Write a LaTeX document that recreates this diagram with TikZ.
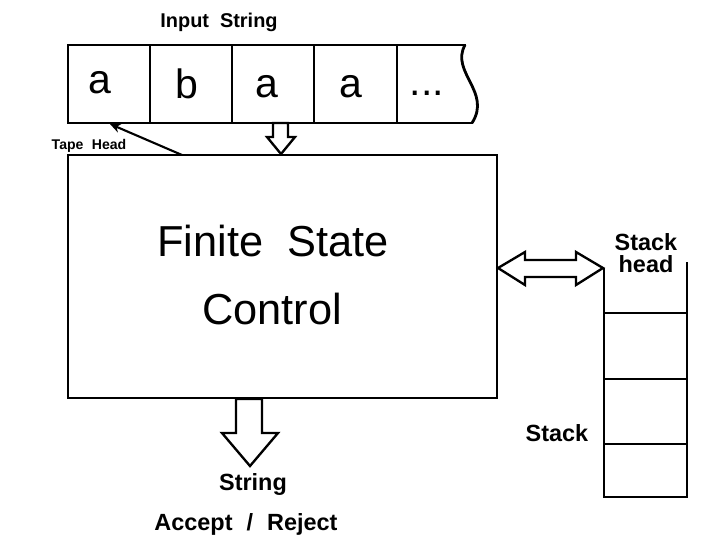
\documentclass[tikz,border=0pt]{standalone}
\usepackage{fontspec}
\setmainfont{Liberation Sans}
\usetikzlibrary{arrows.meta}

\begin{document}
\begin{tikzpicture}[x=0.03cm, y=-0.03cm, line width=2.4pt,
  every node/.style={inner sep=0pt, anchor=base},
  sym/.style={font=\fontsize{35}{40}\selectfont},
  big/.style={font=\fontsize{37}{42}\selectfont},
  lbl/.style={font=\bfseries\fontsize{20}{23}\selectfont},
  hollow/.style={line width=2pt, fill=white, line join=miter}]
  \useasboundingbox (0,0) rectangle (727,551);
  % input tape
  \node[font=\bfseries\fontsize{17}{19}\selectfont] (inp) at (219,27) {Input\hspace{0.55em}String};
  \draw (466,45) -- (68,45) -- (68,123) -- (473,123);
  \draw (465,45) .. controls (450,72) and (492,92) .. (472,123);
  \foreach \x in {150,232,314,397} \draw (\x,45) -- (\x,123);
  \node[sym] (c1) at (100,93) {a};
  \node[sym] (c2) at (187,98) {b};
  \node[sym] (c3) at (267,97) {a};
  \node[sym] (c4) at (351,97) {a};
  \node[sym] (c5) at (427,95) {...};
  \coordinate (head) at (110,124);
  \coordinate (foot) at (182,155);
  \draw[line width=1.8pt, -{Stealth[length=9pt, width=8pt]}] (foot) -- (head);
  \node[font=\bfseries\fontsize{12}{14}\selectfont] (th) at (89,149) {Tape\hspace{0.6em}Head};
  \draw[hollow] (273,123) -- (288,123) -- (288,137) -- (295,137) -- (281,154)
    -- (267,137) -- (273,137) -- cycle;
  % finite state control
  \draw (68,155) rectangle (497,398);
  \node[big] (fs) at (273,256) {Finite\hspace{0.55em}State};
  \node[big] (ctl) at (272,324) {Control};
  \draw[hollow] (498,268) -- (525,252) -- (525,260) -- (576,260) -- (576,252)
    -- (603,268) -- (576,285) -- (576,277) -- (525,277) -- (525,285) -- cycle;
  \draw[hollow] (236,399) -- (262,399) -- (262,433) -- (278,433) -- (250,466)
    -- (222,433) -- (236,433) -- cycle;
  \node[lbl] (str) at (253,490) {String};
  \node[lbl] (acc) at (246,530) {Accept\hspace{0.6em}/\hspace{0.6em}Reject};
  % stack
  \draw (604,268) -- (604,497) -- (687,497) -- (687,262);
  \foreach \y in {313,379,444} \draw (604,\y) -- (687,\y);
  \node[lbl] (sh) at (646,250) {Stack};
  \node[lbl] (sh2) at (646,272) {head};
  \node[lbl] (stk) at (557,441) {Stack};
\end{tikzpicture}
\end{document}
